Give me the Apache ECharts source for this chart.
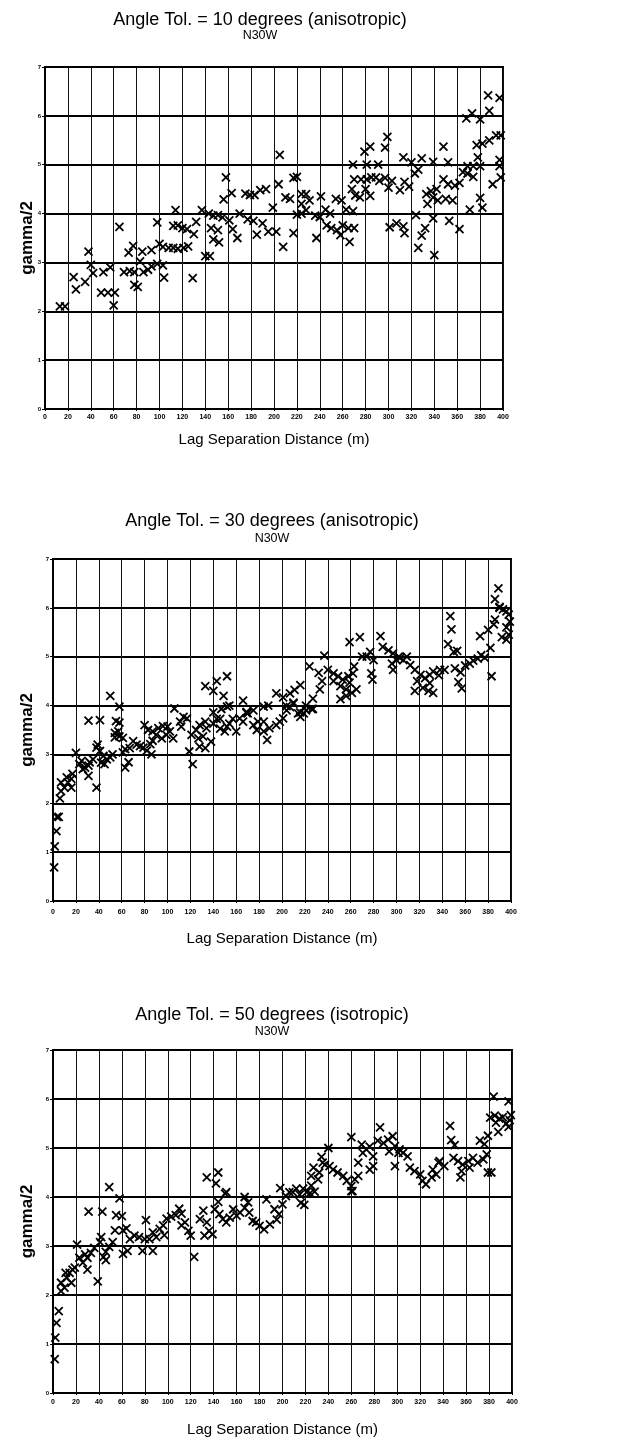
<!DOCTYPE html>
<html>
<head>
<meta charset="utf-8">
<script src="https://cdn.jsdelivr.net/npm/echarts@6/dist/echarts.min.js"></script>
<style>
html,body{margin:0;padding:0;background:#fff;}
#c{width:637px;height:1443px;}
</style>
</head>
<body>
<div id="c"></div>
<script>
// ---- Data (lag distance m, gamma/2) ----
const titles = [
  "Angle Tol. = 10 degrees (anisotropic)",
  "Angle Tol. = 30 degrees (anisotropic)",
  "Angle Tol. = 50 degrees (isotropic)"
];
const subtitle = "N30W";
const xName = "Lag Separation Distance (m)";
const yName = "gamma/2";
const xTicks = [0,20,40,60,80,100,120,140,160,180,200,220,240,260,280,300,320,340,360,380,400];
const yTicks = [0,1,2,3,4,5,6,7];

const tol10 = [
[13,2.1],[17.5,2.1],[25,2.7],[27,2.45],[35,2.6],[38,3.22],[40,2.95],[42,2.78],
[51,2.8],[57,2.9],[49,2.38],[55,2.38],[61,2.38],[60,2.12],[65,3.73],
[69,2.8],[74,2.82],[78,2.8],[73,3.2],[77,3.34],[78,2.54],[81,2.5],
[83,3.02],[85,3.22],[86,2.8],[90,2.85],[93,2.92],[93,3.25],[98,3.82],[98,2.97],[103,2.94],
[100,3.38],[103,3.32],[104,2.69],[108,3.3],[112,3.3],[116,3.28],[121,3.3],
[112,3.75],[116,3.76],[120,3.7],[124,3.68],[130,3.58],[114,4.07],[125,3.33],[129,2.68],
[132,3.83],[137,4.07],[140,3.13],[144,3.13],[143,4.0],[147,3.96],[151,3.97],[155,3.92],
[145,3.7],[151,3.66],[147,3.47],[152,3.41],[156,4.29],[158,4.74],[161,3.86],
[163,4.42],[164,3.68],[168,3.5],[170,4.0],[175,4.41],[179,4.38],[183,4.38],
[177,3.88],[182,3.85],[185,3.57],[188,4.48],[193,4.5],[190,3.8],[195,3.63],
[199,4.12],[202,3.63],[204,4.6],[205,5.2],[208,3.32],[210,4.33],[214,4.3],
[217,4.73],[220,4.75],[217,3.6],[220,3.98],[224,4.0],[228,4.07],
[224,4.4],[228,4.4],[224,4.2],[231,4.27],[236,3.96],[240,3.93],[237,3.5],
[241,4.35],[245,4.08],[249,4.0],[246,3.76],[250,3.7],[255,3.66],[258,3.56],[266,3.42],
[260,3.76],[265,3.7],[270,3.7],[254,4.3],[259,4.27],[263,4.08],[269,4.05],
[268,4.5],[271,4.37],[275,4.33],[270,4.7],[276,4.7],[281,4.7],[285,4.74],[280,4.5],[284,4.36],
[269,5.0],[281,5.0],[291,5.0],[279,5.27],[284,5.37],[297,5.35],[299,5.57],
[289,4.74],[292,4.67],[297,4.73],[300,4.53],[303,4.67],
[301,3.72],[307,3.8],[313,3.74],[314,3.6],[310,4.48],[314,4.65],[318,4.55],
[323,4.82],[326,4.9],[313,5.15],[320,5.05],[329,5.13],[339,5.06],[352,5.05],[348,5.37],
[324,3.97],[326,3.3],[329,3.55],[332,3.7],[333,4.4],[337,4.46],[342,4.5],
[334,4.2],[339,4.33],[343,4.27],[339,3.9],[340,3.15],
[348,4.7],[352,4.6],[358,4.57],[362,4.63],[353,3.85],[350,4.3],[356,4.27],[362,3.68],
[365,4.85],[369,4.82],[374,4.75],[371,4.08],[380,4.32],[382,4.12],[391,4.6],[398,4.74],
[368,5.95],[373,6.05],[380,5.93],[387,6.42],[388,6.1],[397,6.37],
[377,5.4],[382,5.43],[388,5.5],[394,5.6],[398,5.6],[378,5.15],[397,5.1],
[369,4.97],[374,4.97],[380,4.97],[397,4.97]
];

const tol30 = [
[1,0.69],[1.5,1.12],[3,1.43],[3.5,1.72],[5,1.72],
[6,2.1],[7,2.25],[10,2.32],[13,2.43],[16,2.5],[7,2.43],[12,2.53],[17,2.6],[16,2.32],
[20,3.03],[23,2.8],[28,2.73],[31,2.77],[26,2.7],[25,2.87],[32,2.84],[35,2.9],
[31,2.56],[31,3.69],[38,2.32],[38,3.14],[39,3.2],[41,3.07],[44,2.97],[47,2.9],[42,2.83],
[41,3.7],[50,2.94],[52,3.0],[45,2.8],[50,4.2],
[54,3.44],[57,3.47],[58,3.37],[54,3.35],[61,3.34],[55,3.68],[58,3.65],[58,3.98],
[63,3.11],[61,3.04],[63,2.73],[66,2.84],[67,3.13],[70,3.27],[73,3.2],[76,3.17],[79,3.14],
[80,3.6],[82,3.08],[85,3.21],[87,3.28],[86,3.0],
[83,3.5],[87,3.47],[92,3.54],[96,3.58],[99,3.4],[102,3.47],[105,3.33],[100,3.57],[95,3.33],[90,3.4],
[106,3.94],[111,3.67],[114,3.77],[112,3.57],[117,3.74],[119,3.06],[122,2.8],
[121,3.4],[125,3.5],[127,3.33],[131,3.37],[128,3.6],[133,3.67],[134,3.54],
[128,3.16],[133,3.13],[138,3.26],
[140,3.86],[143,3.73],[140,3.63],[146,3.53],[150,3.47],[152,3.57],[154,3.63],[157,3.73],[146,3.73],
[147,3.93],[154,4.0],[160,3.47],
[163,3.74],[169,3.87],[166,3.67],[170,3.84],[175,3.6],[179,3.67],[184,3.47],[189,3.54],
[195,3.6],[198,3.67],[201,3.74],[184,3.67],[178,3.5],[187,3.3],[188,4.0],
[204,3.9],[207,3.97],[210,4.04],[214,3.84],[216,3.77],[219,3.84],[221,3.9],[227,3.93],
[133,4.4],[143,4.5],[152,4.6],[140,4.3],[149,4.2],[152,3.98],
[166,4.1],[169,3.85],[175,3.9],[184,3.98],
[195,4.25],[201,4.17],[207,4.25],[211,4.32],[216,4.42],[204,3.99],[210,4.06],[216,3.86],[221,4.0],[227,4.14],[226,3.93],
[224,4.8],[233,4.33],[232,4.67],[235,4.5],[237,5.02],
[240,4.73],[245,4.66],[249,4.6],[253,4.53],[258,4.6],[262,4.66],[245,4.5],[251,4.4],[256,4.33],[261,4.26],[265,4.33],[259,4.47],[263,4.8],
[259,5.3],[268,5.4],[251,4.13],[256,4.2],
[270,5.0],[274,5.0],[280,4.93],[277,5.1],[278,4.66],[279,4.53],[286,5.42],
[288,5.2],[293,5.13],[297,5.07],[302,5.0],[306,4.93],[296,4.86],[300,4.93],[303,4.97],[309,5.0],[297,4.73],
[312,4.83],[316,4.73],[321,4.63],[325,4.56],[329,4.46],[318,4.5],[323,4.36],[328,4.3],[316,4.3],[332,4.26],[329,4.63],
[332,4.7],[338,4.73],[342,4.73],[337,4.62],
[347,5.83],[348,5.56],[345,5.26],[350,5.1],[353,5.12],
[351,4.76],[356,4.68],[360,4.82],[364,4.86],[357,4.35],[354,4.48],[367,4.92],[371,4.96],[374,5.03],[377,4.98],[383,4.6],
[373,5.42],[380,5.55],[385,5.66],[382,5.18],[386,5.76],[390,6.0],[393,5.97],[396,5.93],[398,5.86],
[392,5.4],[396,5.6],[386,6.18],[390,6.02],[399,5.72],[398,5.45],[396,5.35],[389,6.4]
];

const tol50 = [
[1.5,0.69],[2,1.13],[3,1.43],[5,1.67],
[7,2.08],[10,2.15],[7,2.25],[12,2.35],[14.5,2.45],[17,2.52],[11,2.45],[19,2.56],[16,2.25],
[21,3.03],[23,2.76],[28,2.83],[30,2.76],[26,2.66],[33,2.86],[36,2.96],
[30,2.52],[31,3.7],[39,2.28],[41,3.08],[42,3.18],[46,2.88],[44,2.78],[46,2.71],
[43,3.7],[49,2.98],[54,3.32],[52,3.08],[49,4.2],
[55,3.63],[60,3.61],[58,3.97],[61,3.32],[64,3.36],[61,2.84],[65,2.9],
[67,3.14],[71,3.21],[75,3.18],[80,3.14],[81,3.53],[78,2.9],[87,2.9],
[84,3.14],[87,3.28],[93,3.35],[96,3.42],[99,3.56],[103,3.6],[107,3.63],[112,3.66],[90,3.18],[97,3.22],
[110,3.76],[115,3.48],[118,3.31],[120,3.21],[112,3.42],[123,2.78],
[128,3.55],[131,3.72],[134,3.48],[132,3.21],[136,3.31],[139,3.24],
[141,3.75],[145,3.65],[148,3.55],[151,3.48],[154,3.58],[144,3.9],[150,4.07],[157,3.75],
[160,3.62],[163,3.68],[167,3.78],[171,3.68],[174,3.51],[177,3.48],[180,3.41],[184,3.34],
[189,3.44],[195,3.54],[197,3.65],[193,3.75],[170,3.89],[186,3.95],[200,3.85],
[203,4.02],[209,4.1],[215,4.05],[216,3.88],[219,3.84],[224,4.08],[228,4.11],[260,4.12],
[134,4.4],[142,4.28],[144,4.5],[151,4.1],[167,4.0],[198,4.18],
[206,4.1],[212,4.17],[218,4.17],[221,4.1],[225,4.23],
[225,4.43],[227,4.6],[231,4.36],[232,4.5],[234,4.82],[235,4.7],[240,5.0],
[237,4.66],[241,4.63],[244,4.56],[248,4.5],[253,4.43],
[256,4.33],[260,4.22],[263,4.36],[266,4.43],[261,4.12],[260,5.22],
[266,4.7],[270,4.9],[269,5.07],[273,4.97],[276,5.03],[279,4.83],[276,4.56],[279,4.63],
[285,5.42],[283,5.15],[288,5.1],[292,5.17],[296,5.24],[298,5.04],[302,4.97],[305,4.9],[309,4.83],[301,4.9],[293,4.93],
[298,4.63],[311,4.6],[315,4.53],[320,4.46],[322,4.33],[325,4.26],[330,4.4],[331,4.56],[334,4.46],[337,4.73],[341,4.63],[336,4.7],
[346,5.45],[347,5.16],[350,5.06],
[349,4.8],[353,4.73],[357,4.66],[362,4.73],[366,4.8],[356,4.53],[355,4.4],[363,4.6],[370,4.7],[375,4.77],[378,4.87],[382,4.5],[379,4.5],
[372,5.15],[376,5.08],[379,5.25],[384,6.05],
[381,5.62],[385,5.66],[386,5.52],[389,5.6],[392,5.63],[395,5.5],[397,5.43],[398,5.57],[399,5.67],[388,5.33],[397,5.95]
];

const seriesData = [tol10, tol30, tol50];

// ---- Layout ----
const grids = [
  {left:45, top:67, width:458, height:342},
  {left:53, top:559, width:458, height:342},
  {left:53, top:1050, width:459, height:343}
];
const titleTops = [[11,29],[512,532],[1006,1025]];
const titleCenters = [260, 272, 272];
const yNameGaps = [9, 17, 17];
const xNameGaps = [23, 30, 29];
const xLabelMargins = [5, 8, 6];

const FONT = "Liberation Sans, Arial, Helvetica, sans-serif";
const xSym = 'path://M0,0L10,10M10,0L0,10';

const option = {
  backgroundColor: '#fff',
  animation: false,
  title: [],
  grid: [],
  xAxis: [],
  yAxis: [],
  series: []
};

for (let i = 0; i < 3; i++) {
  option.title.push({
    text: titles[i], left: titleCenters[i], top: titleTops[i][0], textAlign: 'center', padding: 0,
    textStyle: {fontFamily: FONT, fontSize: 18, fontWeight: 'normal', color: '#000'}
  });
  option.title.push({
    text: subtitle, left: titleCenters[i], top: titleTops[i][1], textAlign: 'center', padding: 0,
    textStyle: {fontFamily: FONT, fontSize: 12.5, fontWeight: 'normal', color: '#000'}
  });
  option.grid.push(Object.assign({show: true, borderColor: '#000', borderWidth: 2, backgroundColor: '#fff'}, grids[i]));
  option.xAxis.push({
    gridIndex: i, type: 'value', min: xTicks[0], max: xTicks[xTicks.length-1], interval: 20,
    name: xName, nameLocation: 'middle', nameGap: xNameGaps[i], nameMoveOverlap: false,
    nameTextStyle: {fontFamily: FONT, fontSize: 15, color: '#000'},
    axisLine: {show: true, lineStyle: {color: '#000', width: 2}},
    axisTick: {show: true, length: 2, lineStyle: {color: '#000'}},
    axisLabel: {fontFamily: FONT, fontSize: 7, fontWeight: 'bold', color: '#000', margin: xLabelMargins[i]},
    splitLine: {show: true, lineStyle: {color: '#111', width: 1}}
  });
  option.yAxis.push({
    gridIndex: i, type: 'value', min: yTicks[0], max: yTicks[yTicks.length-1], interval: 1,
    name: yName, nameLocation: 'middle', nameGap: yNameGaps[i], nameRotate: 90, nameMoveOverlap: false,
    nameTextStyle: {fontFamily: FONT, fontSize: 17, fontWeight: 'bold', color: '#000'},
    axisLine: {show: true, lineStyle: {color: '#000', width: 2}},
    axisTick: {show: true, length: 3, lineStyle: {color: '#000'}},
    axisLabel: {fontFamily: FONT, fontSize: 6, fontWeight: 'bold', color: '#000', margin: 4},
    splitLine: {show: true, lineStyle: {color: '#000', width: 2}}
  });
  option.series.push({
    type: 'scatter', xAxisIndex: i, yAxisIndex: i,
    data: seriesData[i],
    symbol: xSym, symbolSize: 8,
    itemStyle: {color: '#000', borderColor: '#000', borderWidth: 1.8, opacity: 1}
  });
}

const chart = echarts.init(document.getElementById('c'), null, {renderer: 'canvas'});
chart.setOption(option);
</script>
</body>
</html>
